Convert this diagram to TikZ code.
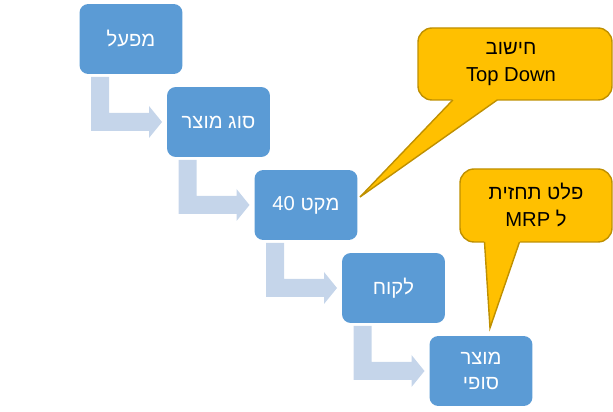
\documentclass[tikz,border=0pt]{standalone}
\usepackage{fontspec}
\setmainfont{Liberation Sans}
\TeXXeTstate=1
\newcommand{\heb}[1]{\beginR#1\endR}
\definecolor{boxblue}{HTML}{5B9BD5}
\definecolor{arr}{HTML}{C5D5EA}
\definecolor{gold}{HTML}{FFC000}
\definecolor{goldb}{HTML}{BF9000}
\begin{document}
\begin{tikzpicture}[x=0.02cm,y=-0.02cm,
  box/.style={fill=boxblue,rounded corners=5pt,minimum width=2.06cm,minimum height=1.4cm,text=white,font=\fontsize{11.5}{14}\selectfont,align=center,inner sep=0pt},
  bentarrow/.style={fill=arr,draw=none},
  call/.style={fill=gold,draw=goldb,line width=0.8pt},
  ctext/.style={font=\fontsize{11.5}{15}\selectfont,align=center}]
\useasboundingbox (0,0) rectangle (613,412);
\foreach \i/\t in {1/\heb{מפעל},2/\heb{סוג מוצר},3/{40 \heb{מקט}},4/\heb{לקוח},5/{\heb{מוצר}\\\heb{סופי}}}{
  \pgfmathsetmacro\cx{131+87.5*(\i-1)}
  \pgfmathsetmacro\cy{39+83*(\i-1)}
  \node[box] (b\i) at (\cx,\cy) {\t};
}
\foreach \i in {1,2,3,4}{
  \pgfmathsetmacro\ax{91+87.5*(\i-1)}
  \pgfmathsetmacro\ay{77+83*(\i-1)}
  \fill[bentarrow] (\ax,\ay) -- ++(18,0) -- ++(0,36) -- ++(40,0) -- ++(0,-7) -- ++(13,16) -- ++(-13,16) -- ++(0,-7) -- ++(-58,0) -- cycle;
}
\draw[call,rounded corners=8pt] (452,100) -- (418,100) -- (418,28) -- (612,28) -- (612,100) -- (497,100);
\draw[call,line join=miter] (452.8,100) -- (360,197) -- (497.2,100);
\node[ctext] (c1) at (511,64) {\heb{חישוב}\\Top Down};
\draw[call,rounded corners=8pt] (484,242) -- (460,242) -- (460,169) -- (612,169) -- (612,242) -- (520,242);
\draw[call,line join=miter] (484.5,242) -- (490,328) -- (519.5,242);
\node[ctext] (c2) at (536,205) {\heb{פלט תחזית}\\MRP \heb{ל}};
\end{tikzpicture}
\end{document}
